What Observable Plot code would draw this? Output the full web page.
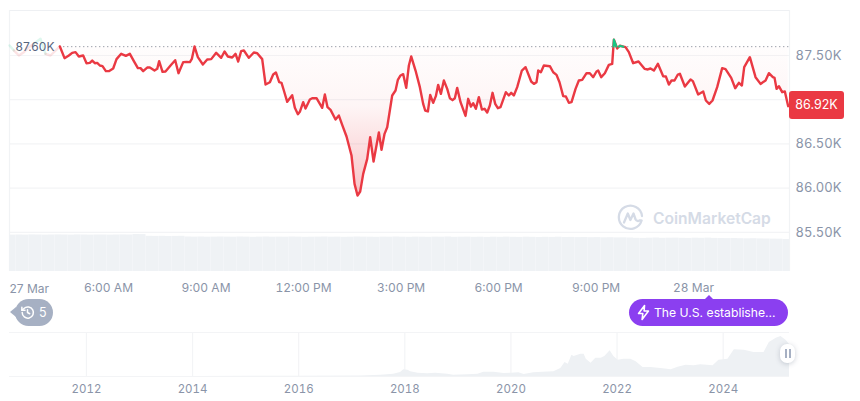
<!DOCTYPE html>
<html><head><meta charset="utf-8">
<script src="https://cdn.jsdelivr.net/npm/d3@7"></script>
<script src="https://cdn.jsdelivr.net/npm/@observablehq/plot@0.6"></script>
<style>
html,body{margin:0;background:#fff}
#wrap{position:relative;width:860px;height:401px;overflow:hidden;font-family:Inter,"Noto Sans",sans-serif}
#wrap>div.layer{position:absolute;left:0}
svg{display:block;background:transparent!important;font-family:Inter,"Noto Sans",sans-serif}
.price{position:absolute;left:789px;top:91px;width:55px;height:28px;background:#ea3943;border-radius:3px;color:#fff;font-size:12.5px;line-height:28px;text-align:center}
.hist{position:absolute;left:15px;top:299px;width:38px;height:27px;background:#a6b0c3;border-radius:14px;color:#fff;font-size:12.5px;line-height:27px}
.hist:before{content:"";position:absolute;left:-5px;top:8px;border:5.5px solid transparent;border-left:0;border-right:6px solid #a6b0c3}
.hist span{position:absolute;left:24px}
.hist svg{position:absolute;left:5px;top:6px}
.news{position:absolute;left:629px;top:299px;width:159px;height:27px;background:#8b3ff0;border-radius:14px;color:#fff;font-size:12.2px;line-height:27px;white-space:nowrap}
.news:before{content:"";position:absolute;left:76px;top:-4px;border:4.5px solid transparent;border-top:0;border-bottom:4.5px solid #8b3ff0}
.news span{position:absolute;left:25px}
.news svg{position:absolute;left:6px;top:5px}
.mark{position:absolute;left:653px;top:206px;color:#d5dbe6;font-size:15.6px;font-weight:600;line-height:26px;white-space:nowrap}
.logo{position:absolute;left:617px;top:204px}
.handle{position:absolute;left:780px;top:344px;width:15px;height:19px;background:#fff;border-radius:7px;box-shadow:0 1px 5px rgba(88,102,126,.3)}
.handle:before,.handle:after{content:"";position:absolute;top:5px;width:2px;height:9px;background:#a6b0c3}
.handle:before{left:5px}.handle:after{left:9px}
</style></head><body>
<div id="wrap">
  <div class="layer" id="main" style="top:0"></div>
  <div class="layer" id="vol" style="top:230px"></div>
  <div class="layer" id="nav" style="top:320px"></div>
  <svg class="logo" width="27" height="27" viewBox="0 0 27 27" fill="none" stroke="#d5dbe6" stroke-width="2.3" stroke-linecap="round" stroke-linejoin="round"><path d="M24.6 16.5A11.6 11.6 0 1 1 25 12"/><path d="M7 18.5 10.8 9.5 13.4 16 16.5 9.5 18.6 15.5Q20 18 23 16.3"/></svg>
  <div class="mark">CoinMarketCap</div>
  <div class="price">86.92K</div>
  <div class="hist"><svg width="15" height="15" viewBox="0 0 24 24" fill="none" stroke="#fff" stroke-width="2.4" stroke-linecap="round" stroke-linejoin="round"><path d="M3.5 12a9 9 0 1 0 2.8-6.5L3 8.5"/><path d="M3 3.5v5h5"/><path d="M12 7.5V12l3.5 2"/></svg><span>5</span></div>
  <div class="news"><svg width="17" height="17" viewBox="0 0 24 24" fill="none" stroke="#fff" stroke-width="2.2" stroke-linejoin="round"><path d="M13.5 2 5 13.5h6L10 22l9-12h-6.2z"/></svg><span>The U.S. establishe...</span></div>
  <div class="handle"></div>
</div>
<script>
// Minutes after 00:00 on 27 Mar, and BTC price in thousands of USD
const earlyMinutes = [177.2,185.2,194.5,203.7,212.9,222.2,234.5,243.7,252.9,270.2];
const earlyPrices = [87.613,87.557,87.5,87.538,87.594,87.632,87.689,87.519,87.5,87.602];

const minutes = [270.2,278.8,286.8,292.9,299.1,305.2,313.2,319.4,325.5,329.9,334.8,339.1,344,348.9,355.1,360.6,368.6,374.8,383.4,392,399.4,406.8,414.2,419.1,424,431.4,436.3,444.9,449.9,453.5,459.7,465.2,474.5,483.1,489.2,497.9,504,510.2,513.9,518.8,524.9,534.2,542.2,549.6,558.8,568,574.2,580.3,588.3,594.5,599.4,604.9,609.9,619.1,628.3,634.5,643.7,649.9,657.9,664,669,675.1,679.4,683.7,689.9,699.1,704,709.6,
713.2,719.4,723.7,731.7,736,744,754.5,759.4,764.3,769.9,779.1,785.3,791.4,799.4,808.6,814.2,819.7,824.6,830.2,837.6,843.1,849.3,859.1,864,869.6,874.5,883.7,889.9,894.2,899.1,904,909.6,914.5,918.8,926.8,934.8,940.9,944.6,949.6,953.9,959.4,964.3,968.6,973.6,979.1,985.3,990.2,995.1,999.4,1003.7,1009.9,1019.1,1024,1029,1033.3,1038.2,1043.7,1049.3,1054.2,1059.1,1064,1069,1073.9,1078.8,1083.7,1093.6,1099.1,1103.4,1108.3,1114.5,1123.1,1129.9,1136,1140.3,1145.3,1150.2,1153.3,1158.2,1163.7,1174.8,1181,1187.1,1192.6,1199.4,1204.3,1209.9,1214.8,1222.2,1228.3,
1234.5,1242.5,1248.6,1254.8,1260.9,1264,1269.6,1276.3,1283.7,1289.9,1293,1299.1,1304,1314.5,1320.6,1328.6,1338.5,1349.6,1355.7,1360.6,1366.8,1374.2,1384,1389,1394.5,1399.4,1404.9,1411.1,1414.8,1424,1434.5,1438.8,1448.6,1457.9,1462.8,1469,1475.1,1483.7,1492.9,1499.1,1509.6,1517,1523.7,1529.3,1533.6,1544,1554.5,1563.7,1573,1579.1,1586.5,1589.6,1593.3,1597.6,1603.7,1608.6,1614.8];
const prices = [87.602,87.47,87.5,87.53,87.538,87.489,87.5,87.413,87.417,87.443,87.413,87.417,87.387,87.379,87.323,87.323,87.353,87.459,87.519,87.496,87.519,87.436,87.357,87.357,87.323,87.364,87.364,87.33,87.349,87.436,87.315,87.319,87.387,87.447,87.3,87.425,87.428,87.425,87.462,87.602,87.481,87.398,87.455,87.459,87.53,87.474,87.545,87.489,87.477,87.519,87.432,87.549,87.557,87.474,87.534,87.526,87.459,87.172,87.198,87.285,87.308,87.198,87.191,87.104,86.976,87.051,86.908,86.836,
86.863,86.972,86.9,87.002,87.017,87.017,86.908,87.059,86.916,86.885,86.776,86.821,86.716,86.584,86.369,86.048,85.916,85.962,86.161,86.331,86.576,86.301,86.629,86.433,86.614,86.689,87.048,87.104,87.225,87.274,87.289,87.134,87.387,87.489,87.33,87.142,86.953,86.878,86.867,87.055,86.965,87.04,87.168,87.066,87.217,87.123,87.017,86.995,87.017,87.134,86.972,86.817,87.01,86.923,86.961,86.897,87.029,86.889,86.897,86.855,86.934,87.078,86.953,86.904,86.916,87.085,87.048,87.078,87.048,87.142,87.33,87.368,87.274,87.206,87.179,87.198,87.33,87.311,87.387,87.379,87.311,87.281,87.198,87.04,87.036,86.965,86.972,87.123,87.217,
87.225,87.3,87.3,87.255,87.319,87.33,87.255,87.3,87.394,87.406,87.68,87.579,87.61,87.594,87.538,87.413,87.432,87.349,87.342,87.353,87.33,87.406,87.266,87.262,87.172,87.217,87.217,87.285,87.293,87.149,87.229,87.21,87.059,87.093,86.991,86.953,86.991,87.142,87.357,87.345,87.247,87.13,87.191,87.161,87.368,87.481,87.255,87.179,87.217,87.3,87.255,87.247,87.123,87.153,87.085,87.093,86.927];

const peakGroups = [0,0,0,1,1,1];
const peakMinutes = [1292.2,1293,1297.7,1302.4,1304,1310.6];
const peakPrices = [87.6,87.68,87.6,87.6,87.61,87.6];

const openPrice = 87.6;
const gridTicks = [85.5,86,86.5,87,87.5];
const yTicks = [85.5,86,86.5,87.5];
const xTicks = [360,540,720,900,1080,1260,1440];
const xLabels = ["6:00 AM","9:00 AM","12:00 PM","3:00 PM","6:00 PM","9:00 PM","28 Mar"];

// Volume bars, one per 12 minutes (relative height)
const volume = [36.4,36.5,36.4,36.6,36.5,36.4,36.5,36.6,36.5,36.4,36.6,36.5,36.4,36.5,36.5,36.4,36.5,36.6,36.5,37,36.9,35.2,35.1,35.2,35,35.1,35.2,34.5,34.4,34.5,34.3,34.4,34.5,34.4,34.3,34.5,34.4,34.2,34.4,34.5,34.3,34.4,34.3,34.5,34.4,34.2,34.3,34.4,34.5,34.3,34.4,34.2,34.3,34.5,34.4,34.3,34.2,34.4,34.3,34.5,34.3,34.2,34.4,34.3,34.2,34.4,34.3,34.5,34.2,34.3,34.4,34.2,34.3,34.1,34.3,34.2,34.4,34.2,34.1,34.3,34.2,34,34.2,34.1,34.3,34,34.1,33.9,34,33.8,33.9,33.7,33.8,33.6,33.7,33.5,33.2,33.1,33.3,33.5,33.2,33.3,33.4,33.2,33.1,33.3,33.2,33.4,33.1,33,32.9,33,32.8,32.7,32.8,32.6,32.5,32.4,32.3,32];

// Navigator: full history level
const navYears = [2010.55,2012.3,2014,2016,2017.17,2017.55,2017.79,2017.92,2017.98,2018.06,2018.11,2018.25,2018.43,2018.58,2018.81,2018.92,2019.19,2019.38,2019.49,2019.68,2019.87,2020,2020.15,2020.25,2020.43,2020.6,2020.81,2020.94,2021.02,2021.08,2021.15,2021.19,2021.32,2021.38,2021.42,2021.51,2021.6,2021.7,2021.77,2021.87,2021.94,2022.02,2022.13,2022.26,2022.36,2022.49,2022.64,2022.87,2023.02,2023.15,2023.3,2023.45,2023.58,2023.81,2023.92,2024.09,2024.21,2024.4,2024.58,2024.77,2024.87,2025,2025.09,2025.19,2025.25];
const navLevel = [0,0.05,0.1,0.2,0.5,1.3,2.3,4,6.7,6.3,4.7,3.3,2.7,3.3,2.3,1.3,1.7,2.3,4.3,4.3,3,3.3,3.7,2,3.7,4.3,4.7,8,14,12.3,21.3,20,22.3,22.3,17.3,13.3,18.3,18.3,20,25.7,20,16.3,17.3,17.3,14.7,9,9,7.7,6.7,9.3,11.3,10.7,11.7,10.7,16.3,17.3,26.7,26.3,24,24,34,38.3,40,36,32];
const navTicks = [2012,2014,2016,2018,2020,2022,2024];

const red = "#ea3943", green = "#16c784", grid = "#f3f4f6", axisText = "#8a94a8";
const series = minutes.map((t,i)=>({t,p:prices[i]}));
const early = earlyMinutes.map((t,i)=>({t,p:earlyPrices[i]}));
const peak = peakMinutes.map((t,i)=>({t,p:peakPrices[i],g:peakGroups[i]}));
const xDomain = [177.2,1617.2];

const gradient = () => {
  const defs = d3.create("svg:defs");
  const g = defs.append("linearGradient").attr("id","fade").attr("x1",0).attr("x2",0).attr("y1",0).attr("y2",1);
  g.append("stop").attr("offset","0").attr("stop-color",red).attr("stop-opacity",.01);
  g.append("stop").attr("offset",".4").attr("stop-color",red).attr("stop-opacity",.05);
  g.append("stop").attr("offset","1").attr("stop-color",red).attr("stop-opacity",.3);
  return defs.node();
};

document.getElementById("main").append(Plot.plot({
  width:860,height:300,marginTop:10,marginBottom:29,marginLeft:9,marginRight:71,
  style:{fontSize:"13px",color:axisText},
  x:{domain:xDomain,axis:null},
  y:{domain:[85.057,88.009],axis:null},
  marks:[
    gradient,
    Plot.ruleY(gridTicks,{stroke:grid,strokeWidth:1.2}),
    Plot.ruleY([88.009],{stroke:"#eef0f3",strokeWidth:1.2}),
    Plot.ruleX(xDomain,{stroke:"#f1f3f5",strokeWidth:1.2}),
    Plot.areaY(series,{x:"t",y1:openPrice,y2:d=>Math.min(d.p,openPrice),fill:"url(#fade)"}),
    Plot.ruleY([openPrice],{x1:270,x2:xDomain[1],stroke:"#777e8c",strokeWidth:1,strokeDasharray:"1 3"}),
    Plot.line(early,{x:"t",y:"p",z:null,stroke:d=>d.p>=openPrice?green:red,strokeOpacity:.14,strokeWidth:2.4}),
    Plot.line(series,{x:"t",y:"p",stroke:red,strokeWidth:2.4}),
    Plot.areaY(peak,{x:"t",y1:openPrice,y2:"p",z:"g",fill:green}),
    Plot.line(peak,{x:"t",y:"p",z:"g",stroke:green,strokeWidth:2}),
    Plot.text([openPrice],{x:xDomain[0],y:d=>d,text:d=>`${d.toFixed(2)}K`,textAnchor:"start",dx:6,fill:"#58667e",fontSize:12}),
    Plot.axisY({anchor:"right",ticks:yTicks,tickSize:0,tickPadding:6,tickFormat:d=>`${d.toFixed(2)}K`,fill:axisText,label:null,fontSize:13}),
    Plot.axisX({ticks:xTicks,tickSize:0,tickPadding:11.5,tickFormat:d=>xLabels[xTicks.indexOf(d)],fill:axisText,label:null,fontSize:12}),
    Plot.text(["27 Mar"],{x:xDomain[0],y:85.057,text:d=>d,textAnchor:"start",dy:18,fill:axisText,fontSize:12})
  ]
}));

document.getElementById("vol").append(Plot.plot({
  width:860,height:41,marginTop:0,marginBottom:0,marginLeft:9,marginRight:71,
  x:{domain:xDomain,axis:null},y:{domain:[0,41],axis:null},
  marks:[Plot.rectY(volume,{x1:(d,i)=>xDomain[0]+i*12,x2:(d,i)=>xDomain[0]+(i+1)*12,y:d=>d,fill:"#eff2f5"})]
}));

document.getElementById("nav").append(Plot.plot({
  width:860,height:81,marginTop:12,marginBottom:25,marginLeft:9,marginRight:71,
  x:{domain:[2010.55,2025.25],axis:null},y:{domain:[0,44],axis:null},
  marks:[
    Plot.ruleY([0,44],{stroke:grid,strokeWidth:1.2}),
    Plot.ruleX(navTicks,{stroke:grid,strokeWidth:1.2}),
    Plot.areaY(navYears.map((t,i)=>({t,v:navLevel[i]})),{x:"t",y:"v",fill:"#eef1f4"}),
    Plot.axisX({ticks:navTicks,tickSize:0,tickPadding:8,tickFormat:"d",fill:axisText,label:null,fontSize:11.5})
  ]
}));
</script>
</body></html>
